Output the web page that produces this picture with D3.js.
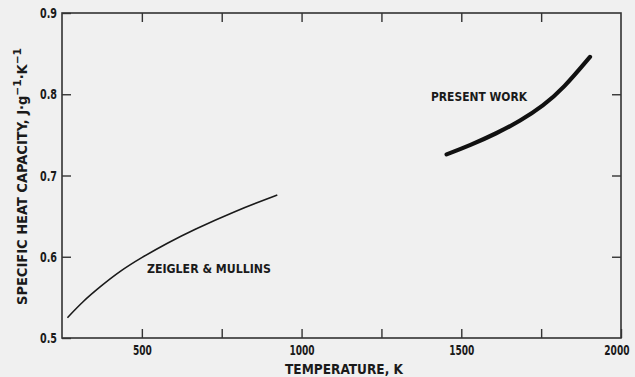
<!DOCTYPE html>
<html>
<head>
<meta charset="utf-8">
<script src="https://cdn.jsdelivr.net/npm/d3@7"></script>
<style>
  body { margin: 0; background: #f0f0f0; }
  svg { display: block; }
  text { font-family: "DejaVu Sans Condensed", "Liberation Sans Narrow", sans-serif; font-weight: bold; fill: #1a1a1a; }
</style>
</head>
<body>
<div id="chart"></div>
<script>
// data
const zeiglerT = [267, 315, 369, 430, 499, 580, 661, 790, 924];
const zeiglerCp = [0.525, 0.545, 0.563, 0.582, 0.599, 0.617, 0.633, 0.656, 0.676];
const presentT = [1454, 1527, 1611, 1684, 1757, 1819, 1903];
const presentCp = [0.726, 0.737, 0.752, 0.767, 0.786, 0.807, 0.846];
const xTicks = [500, 750, 1000, 1250, 1500, 1750, 2000];
const xLabels = [500, 1000, 1500, 2000];
const yTicks = [0.5, 0.6, 0.7, 0.8, 0.9];

const margin = { top: 13, right: 14, bottom: 39, left: 62 };
const width = 635 - margin.left - margin.right;
const height = 377 - margin.top - margin.bottom;

// the reference font is a narrow bold sans, so squeeze text to its width
function squeeze(sel, w) {
  sel.attr("textLength", w).attr("lengthAdjust", "spacingAndGlyphs");
}

const svg = d3.select("#chart")
  .append("svg")
  .attr("width", 635)
  .attr("height", 377)
  .append("g")
  .attr("transform", "translate(" + margin.left + "," + margin.top + ")");

const x = d3.scaleLinear().domain([250, 2000]).range([0, width]);
const y = d3.scaleLinear().domain([0.5, 0.9]).range([height, 0]);

// axes, ticks pointing inward
svg.append("g")
  .attr("transform", "translate(0," + height + ")")
  .call(d3.axisBottom(x).tickValues(xTicks).tickSize(-9).tickPadding(7)
    .tickFormat(d => xLabels.includes(d) ? d : ""));
svg.append("g")
  .call(d3.axisTop(x).tickValues(xTicks.filter(d => d < 2000)).tickSize(-9).tickFormat(""));
svg.append("g")
  .call(d3.axisLeft(y).tickValues(yTicks).tickSize(-9).tickPadding(5)
    .tickFormat(d3.format(".1f")));
svg.append("g")
  .attr("transform", "translate(" + width + ",0)")
  .call(d3.axisRight(y).tickValues(yTicks.slice(1, 4)).tickSize(-9).tickFormat(""));

svg.selectAll(".domain").remove();
svg.selectAll(".tick line").attr("stroke", "#333").attr("stroke-width", 1.4);
svg.selectAll(".tick text")
  .attr("font-size", "14.5px")
  .attr("fill", "#1a1a1a")
  .each(function(d) {
    const t = this.textContent;
    if (t) squeeze(d3.select(this), t.includes(".") ? 17 : t.length * 6.3);
    // keep the last label inside the window
    if (d === 2000) d3.select(this).attr("text-anchor", "end").attr("x", 8);
  });

// frame
svg.append("rect")
  .attr("width", width)
  .attr("height", height)
  .attr("fill", "none")
  .attr("stroke", "#333")
  .attr("stroke-width", 1.6);

const line = d3.line()
  .x(d => x(d[0]))
  .y(d => y(d[1]))
  .curve(d3.curveBasis);

svg.append("path")
  .datum(d3.zip(zeiglerT, zeiglerCp))
  .attr("d", line)
  .attr("fill", "none")
  .attr("stroke", "#1a1a1a")
  .attr("stroke-width", 1.6);

svg.append("path")
  .datum(d3.zip(presentT, presentCp))
  .attr("d", line)
  .attr("fill", "none")
  .attr("stroke", "#111")
  .attr("stroke-width", 4.2)
  .attr("stroke-linecap", "round");

// curve labels
svg.append("text")
  .attr("x", 431 - margin.left)
  .attr("y", 101 - margin.top)
  .attr("font-size", "12.5px")
  .text("PRESENT WORK")
  .call(squeeze, 96);

svg.append("text")
  .attr("x", 147 - margin.left)
  .attr("y", 273 - margin.top)
  .attr("font-size", "12.5px")
  .text("ZEIGLER & MULLINS")
  .call(squeeze, 124);

// axis titles
svg.append("text")
  .attr("x", 285 - margin.left)
  .attr("y", height + 36)
  .attr("font-size", "14px")
  .text("TEMPERATURE, K")
  .call(squeeze, 118);

const yTitle = svg.append("text")
  .attr("transform", "rotate(-90)")
  .attr("x", -(305 - margin.top))
  .attr("y", 27 - margin.left)
  .attr("font-size", "13.5px")
  .call(squeeze, 257);
yTitle.append("tspan").text("SPECIFIC HEAT CAPACITY, J\u00b7g");
yTitle.append("tspan").attr("dy", "-6").attr("font-size", "11px").text("\u22121");
yTitle.append("tspan").attr("dy", "6").text("\u00b7K");
yTitle.append("tspan").attr("dy", "-6").attr("font-size", "11px").text("\u22121");
</script>
</body>
</html>
